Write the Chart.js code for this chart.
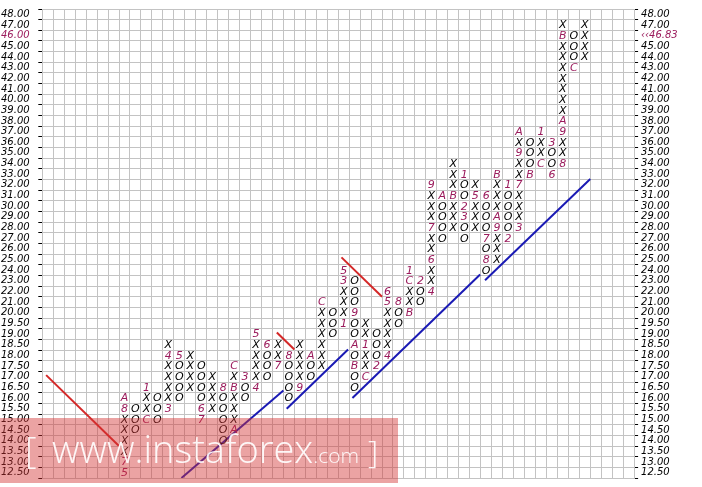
<!DOCTYPE html>
<html>
<head>
<meta charset="utf-8">
<script src="https://cdn.jsdelivr.net/npm/chart.js@4.4.0/dist/chart.umd.min.js"></script>
<style>
  body { margin: 0; background: #fff; }
  #caixa { position: relative; width: 702px; height: 487px; }
</style>
</head>
<body>
<div id="caixa"><canvas id="grafico-pf"></canvas></div>
<script>
// caixas de preço, de baixo para cima (0.50 até 20, depois 1.00)
const precos = [12.5, 13, 13.5, 14, 14.5, 15, 15.5, 16, 16.5, 17, 17.5, 18, 18.5, 19, 19.5,
  20, 21, 22, 23, 24, 25, 26, 27, 28, 29, 30, 31, 32, 33, 34, 35, 36, 37, 38, 39, 40,
  41, 42, 43, 44, 45, 46, 47, 48];
const precoAtual = 46.83;
const totalColunas = 54;

// colunas do gráfico ponto e figura
const colunas = [7, 8, 9, 10, 11, 12, 13, 14, 15, 16, 17, 18, 19, 20, 21, 22, 23, 24, 25, 26, 27, 28,
  29, 30, 31, 32, 33, 34, 35, 36, 37, 38, 39, 40, 41, 42, 43, 44, 45, 46, 47, 48, 49];
const tipos = ['X', 'O', 'X', 'O', 'X', 'O', 'X', 'O', 'X', 'O', 'X', 'O', 'X', 'O', 'X', 'O', 'X', 'O', 'X', 'O', 'X', 'O',
  'X', 'O', 'X', 'O', 'X', 'O', 'X', 'O', 'X', 'O', 'X', 'O', 'X', 'O', 'X', 'O', 'X', 'O', 'X', 'O', 'X'];
const baixo = [12.5, 14.5, 15, 15, 15.5, 16, 16.5, 15, 15.5, 14, 14.5, 16, 16.5, 17, 17.5, 16, 16.5, 17, 17.5, 19, 19.5, 16.5,
  17, 17.5, 18, 19.5, 20, 21, 22, 27, 28, 27, 28, 24, 25, 27, 28, 33, 34, 33, 34, 43, 44];
const topo = [16, 15.5, 16.5, 16, 18.5, 18, 18, 17.5, 17, 16.5, 17.5, 17, 19, 18.5, 18.5, 18, 18.5, 18, 21, 20, 24, 23,
  19.5, 19, 22, 21, 24, 23, 32, 31, 34, 33, 32, 31, 33, 32, 37, 36, 37, 36, 47, 46, 47];

// inicio de mês (1-9, A, B, C) no lugar do X ou O: [coluna, preço, marca]
const meses = [
  [7, 12.5, '5'], [7, 13, '7'], [7, 15.5, '8'], [7, 16, 'A'],
  [9, 15, 'C'], [9, 16.5, '1'], [11, 15.5, '3'], [11, 18, '4'], [12, 18, '5'],
  [14, 15.5, '6'], [14, 15, '7'], [16, 16.5, '8'],
  [17, 14.5, 'A'], [17, 16.5, 'B'], [17, 17.5, 'C'], [18, 17, '3'],
  [19, 16.5, '4'], [19, 19, '5'], [20, 18.5, '6'], [21, 17.5, '7'], [22, 18, '8'],
  [23, 16.5, '9'], [24, 18, 'A'], [25, 21, 'C'],
  [27, 19.5, '1'], [27, 23, '3'], [27, 24, '5'], [28, 20, '9'], [28, 18.5, 'A'], [28, 17.5, 'B'],
  [29, 18.5, '1'], [29, 17, 'C'], [30, 17.5, '2'], [31, 18, '4'], [31, 21, '5'], [31, 22, '6'],
  [32, 21, '8'], [33, 20, 'B'], [33, 23, 'C'], [33, 24, '1'], [34, 23, '2'],
  [35, 22, '4'], [35, 25, '6'], [35, 28, '7'], [35, 32, '9'], [36, 31, 'A'], [37, 31, 'B'],
  [38, 33, '1'], [38, 30, '2'], [38, 29, '3'], [39, 31, '5'], [40, 31, '6'], [40, 27, '7'], [40, 25, '8'],
  [41, 28, '9'], [41, 29, 'A'], [41, 33, 'B'], [42, 32, '1'], [42, 27, '2'],
  [43, 28, '3'], [43, 32, '7'], [43, 35, '9'], [43, 37, 'A'], [44, 33, 'B'],
  [45, 34, 'C'], [45, 37, '1'], [46, 36, '3'], [46, 33, '6'],
  [47, 34, '8'], [47, 37, '9'], [47, 38, 'A'], [47, 46, 'B'], [48, 43, 'C']
];

// linhas de tendencia, em unidades de coluna / caixa da grade
const linhasVermelhas = [
  [[0.35, 9.65], [7.0, 3.0]],
  [[21.4, 13.65], [23.0, 12.05]],
  [[27.3, 20.7], [31.0, 17.0]]
];
const linhasAzuis = [
  [[12.7, 0], [22.0, 8.2]],
  [[22.3, 6.5], [27.9, 12.05]],
  [[28.3, 7.5], [39.95, 19.1]],
  [[40.4, 18.55], [50.0, 28.05]]
];

const corGrade = '#c3c3c3';
const corMes = '#9b1b5c';

// 1. Montar as caixas (X, O ou marca de mês)
const caixas = [];
colunas.forEach((col, i) => {
  const de = precos.indexOf(baixo[i]);
  const ate = precos.indexOf(topo[i]);
  for (let k = de; k <= ate; k++) {
    const mes = meses.find(m => m[0] === col && m[1] === precos[k]);
    caixas.push({
      x: col + 0.5,
      y: k + 0.5,
      txt: mes ? mes[2] : tipos[i],
      cor: mes ? corMes : '#000'
    });
  }
});

const datasetsLinhas = [];
linhasVermelhas.forEach(l => datasetsLinhas.push({ cor: '#d42828', pts: l }));
linhasAzuis.forEach(l => datasetsLinhas.push({ cor: '#1a1ab4', pts: l }));

// ticks nas bordas (inteiros) e nos centros (rótulos)
function ticksPrecos(eixo) {
  const t = [];
  for (let v = 0; v <= precos.length * 2; v++) t.push({ value: v / 2 });
  eixo.ticks = t;
}
const ehBorda = v => Number.isInteger(v);

// 2. Plugins: letras nas caixas e marca d'agua
const letras = {
  id: 'letras',
  afterDatasetsDraw(chart) {
    const ctx = chart.ctx;
    ctx.save();
    ctx.font = 'italic 11px "DejaVu Sans"';
    ctx.textAlign = 'center';
    ctx.textBaseline = 'middle';
    chart.data.datasets.forEach((ds, i) => {
      if (!ds.letras) return;
      chart.getDatasetMeta(i).data.forEach((pt, j) => {
        ctx.fillStyle = ds.data[j].cor;
        ctx.fillText(ds.data[j].txt, pt.x, pt.y + 0.5);
      });
    });
    ctx.restore();
  }
};

const marcaDagua = {
  id: 'marcaDagua',
  afterDraw(chart) {
    const ctx = chart.ctx;
    ctx.save();
    ctx.fillStyle = 'rgba(210, 50, 50, 0.45)';
    ctx.fillRect(0, 418, 398, 65);
    ctx.fillStyle = 'rgba(255,255,255,0.92)';
    ctx.textBaseline = 'alphabetic';
    ctx.font = '300 36px "Open Sans"';
    ctx.fillText('[', 25, 463);
    ctx.font = '300 38px "Open Sans"';
    ctx.fillText('www.instaforex', 52, 463);
    const w = ctx.measureText('www.instaforex').width;
    ctx.font = '300 21px "Open Sans"';
    ctx.fillText('.com', 52 + w, 463);
    ctx.font = '300 32px "Open Sans"';
    ctx.fillText(']', 368, 463);
    ctx.restore();
  }
};

// 3. Criar o gráfico
const ctx = document.getElementById('grafico-pf').getContext('2d');
const fonteEixo = { family: 'DejaVu Sans', size: 10, style: 'italic' };

window.meuGrafico = new Chart(ctx, {
  type: 'scatter',
  data: {
    datasets: [
      { letras: true, data: caixas, pointRadius: 0, pointHoverRadius: 0 }
    ].concat(datasetsLinhas.map(l => ({
      data: l.pts.map(p => ({ x: p[0], y: p[1] })),
      showLine: true,
      borderColor: l.cor,
      borderWidth: 2,
      pointRadius: 0
    })))
  },
  options: {
    responsive: true,
    maintainAspectRatio: false,
    animation: false,
    events: [],
    layout: { padding: { top: 2.7, bottom: 0.3, left: 1, right: 0 } },
    plugins: { legend: { display: false }, tooltip: { enabled: false } },
    scales: {
      x: {
        type: 'linear', min: 0, max: totalColunas,
        ticks: { display: false, stepSize: 1 },
        grid: { color: corGrade, drawTicks: false },
        border: { color: corGrade },
        afterFit: s => { s.height = 0; }
      },
      y: {
        type: 'linear', position: 'left', min: 0, max: precos.length,
        afterBuildTicks: ticksPrecos,
        afterFit: s => { s.width = 41.3; },
        ticks: {
          autoSkip: false, crossAlign: 'far', padding: 3, font: fonteEixo,
          color: c => precos[Math.floor(c.tick.value)] === 46 ? corMes : '#000',
          callback: v => ehBorda(v) ? '' : precos[Math.floor(v)].toFixed(2)
        },
        grid: {
          tickLength: 4,
          color: c => ehBorda(c.tick.value) ? corGrade : 'rgba(0,0,0,0)',
          tickColor: c => ehBorda(c.tick.value) ? '#000' : 'rgba(0,0,0,0)'
        },
        border: { color: corGrade }
      },
      y2: {
        type: 'linear', position: 'right', min: 0, max: precos.length,
        afterBuildTicks: ticksPrecos,
        afterFit: s => { s.width = 67.9; },
        ticks: {
          autoSkip: false, padding: 3, font: fonteEixo,
          color: c => precos[Math.floor(c.tick.value)] === 46 ? corMes : '#000',
          callback: v => {
            if (ehBorda(v)) return '';
            const p = precos[Math.floor(v)];
            return p === 46 ? '\u2039\u2039' + precoAtual.toFixed(2) : p.toFixed(2);
          }
        },
        grid: {
          drawOnChartArea: false, tickLength: 4,
          tickColor: c => ehBorda(c.tick.value) ? '#000' : 'rgba(0,0,0,0)'
        },
        border: { color: corGrade }
      }
    }
  },
  plugins: [letras, marcaDagua]
});
</script>
</body>
</html>
